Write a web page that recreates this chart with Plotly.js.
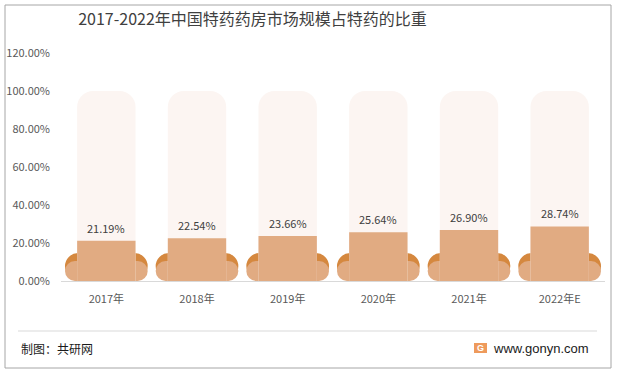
<!DOCTYPE html>
<html><head><meta charset="utf-8">
<script src="https://cdn.plot.ly/plotly-3.0.1.min.js"></script>
<style>html,body{margin:0;padding:0;background:#fff;overflow:hidden}#chart{width:619px;height:373px}</style>
</head><body><div id="chart"></div>
<script>
// ---- data ----
const categories = ['2017年','2018年','2019年','2020年','2021年','2022年E'];
const shares = [21.19, 22.54, 23.66, 25.64, 26.90, 28.74];
const fullScale = [100, 100, 100, 100, 100, 100];
const yTicks = [0, 20, 40, 60, 80, 100, 120];
const yTickLabels = ['0.00%','20.00%','40.00%','60.00%','80.00%','100.00%','120.00%'];
const titleText = '2017-2022年中国特药药房市场规模占特药的比重';
const sourceText = '制图：共研网';
const siteText = 'www.gonyn.com';

// ---- layout helpers ----
const W = 619, H = 373;
const M = {l: 61, r: 14, t: 53, b: 92};
const PW = W - M.l - M.r, PH = H - M.t - M.b;
const YMAX = 120;
const px = x => (x - M.l) / PW;
const py = y => (H - M.b - y) / PH;
const FONT = '"Noto Sans CJK SC", "Noto Sans", sans-serif';

const shapes = [];
const HALF = 0.456;
function pill(i, y0, y1, color) {
  const rPx = (y1 - y0) * PH / YMAX / 2;
  const rx = rPx / (PW / categories.length);
  const common = {xref:'x', yref:'y', layer:'below', fillcolor:color, line:{width:0}, y0:y0, y1:y1};
  shapes.push(Object.assign({type:'rect', x0:i-HALF+rx, x1:i+HALF-rx}, common));
  shapes.push(Object.assign({type:'circle', x0:i-HALF, x1:i-HALF+2*rx}, common));
  shapes.push(Object.assign({type:'circle', x0:i+HALF-2*rx, x1:i+HALF}, common));
}
categories.forEach((c, i) => {
  pill(i, 1.0, 14.7, '#d5883f');
  pill(i, 0.0, 10.5, '#e1ab82');
});
// outer frame
shapes.push({type:'rect', xref:'paper', yref:'paper',
  x0:px(5), x1:px(611), y0:py(368), y1:py(5),
  line:{color:'#a6a6a6', width:1}, fillcolor:'rgba(0,0,0,0)'});
// footer separator
shapes.push({type:'line', xref:'paper', yref:'paper',
  x0:px(18), x1:px(597), y0:py(331), y1:py(331),
  line:{color:'#d9d9d9', width:1}});
// logo square
shapes.push({type:'rect', xref:'paper', yref:'paper',
  x0:px(474), x1:px(487), y0:py(353), y1:py(343),
  line:{width:0}, fillcolor:'#ee9a5c'});

const annotations = categories.map((c, i) => ({
  x: c, y: shares[i], xref:'x', yref:'y', yshift: 13,
  text: shares[i].toFixed(2) + '%', showarrow:false,
  xanchor:'center', yanchor:'middle',
  font:{size:11, color:'#404040', family:FONT}
}));
annotations.push({xref:'paper', yref:'paper', x:px(19), y:py(348),
  xanchor:'left', yanchor:'middle', showarrow:false, text:sourceText,
  font:{size:12, color:'#1a1a1a', family:FONT}});
annotations.push({xref:'paper', yref:'paper', x:px(491), y:py(348),
  xanchor:'left', yanchor:'middle', showarrow:false, text:siteText,
  font:{size:13, color:'#1a1a1a', family:'"Liberation Sans", Arial, sans-serif'}});
annotations.push({xref:'paper', yref:'paper', x:px(480.5), y:py(348),
  xanchor:'center', yanchor:'middle', showarrow:false, text:'G',
  font:{size:9, color:'#ffffff', family:'"Liberation Sans", Arial, sans-serif', weight:'bold'}});

const traces = [
  {type:'bar', x:categories, y:fullScale, width:0.644,
   marker:{color:'#fcf5f2', cornerradius:16, line:{width:0}}, hoverinfo:'skip'},
  {type:'bar', x:categories, y:shares, width:0.644,
   marker:{color:'#e1ab82', line:{width:0}}, hoverinfo:'skip'}
];

const layout = {
  width: W, height: H, margin: M,
  paper_bgcolor:'#ffffff', plot_bgcolor:'rgba(0,0,0,0)',
  barmode:'overlay', showlegend:false,
  font:{family:FONT, color:'#595959', size:11},
  title:{text:titleText, xref:'container', yref:'container',
    x:252.5/W, y:1-19/H, xanchor:'center', yanchor:'middle',
    font:{size:16, color:'#404040', family:FONT}},
  xaxis:{type:'category', range:[-0.5, 5.5], showgrid:false, zeroline:false,
    showline:true, linecolor:'#d9d9d9', linewidth:1, ticks:'',
    tickfont:{size:11, color:'#595959'}, ticklabelstandoff:8, fixedrange:true},
  yaxis:{range:[0, YMAX], tickvals:yTicks, ticktext:yTickLabels,
    showgrid:false, zeroline:false, showline:false, ticks:'',
    tickfont:{size:11, color:'#595959'}, ticklabelstandoff:10, fixedrange:true},
  shapes: shapes,
  annotations: annotations
};

Plotly.newPlot('chart', traces, layout, {staticPlot:true, displayModeBar:false});
</script>
</body></html>
